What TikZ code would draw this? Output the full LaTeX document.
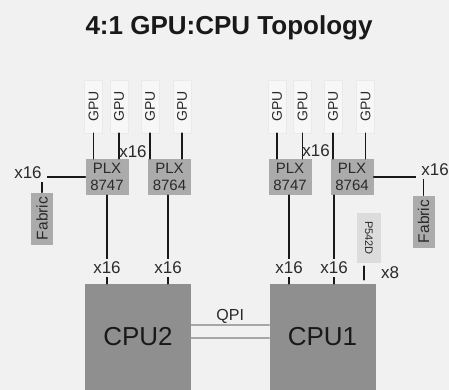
\documentclass[tikz,border=0pt]{standalone}
\usepackage{fontspec}
\setmainfont{Liberation Sans}
\usepackage{color}

\definecolor{bgc}{HTML}{F1F1F1}
\definecolor{gpuc}{HTML}{F7F7F7}
\definecolor{gpubd}{HTML}{EAEAEA}
\definecolor{plxc}{HTML}{ABABAB}
\definecolor{cpuc}{HTML}{8F8F8F}
\definecolor{cardc}{HTML}{DCDCDC}
\definecolor{qpic}{HTML}{A6A6A6}
\definecolor{txtc}{HTML}{2A2A2A}

\begin{document}
\begin{tikzpicture}[line cap=round,line join=round,x=1pt,y=-1pt,
  link/.style={line width=1.6pt,black!90},
  qpi/.style={line width=1.5pt,qpic},
  title/.style={font=\fontsize{26}{30}\bfseries\selectfont,text=black!90},
  gpu/.style={draw=gpubd,fill=gpuc,minimum width=18,minimum height=53,inner sep=0pt,
    font=\fontsize{14}{16}\selectfont,text=txtc},
  plx/.style={fill=plxc,minimum width=43,minimum height=36,inner sep=0pt,align=center,
    font=\fontsize{15}{16.5}\selectfont,text=txtc},
  fabric/.style={fill=plxc,minimum width=22,minimum height=52,inner sep=0pt,
    font=\fontsize{15.5}{17}\selectfont,text=txtc},
  card/.style={fill=cardc,minimum width=24,minimum height=50,inner sep=0pt,
    font=\fontsize{11}{13}\selectfont,text=txtc},
  cpu/.style={fill=cpuc,minimum width=106,minimum height=106,inner sep=0pt,
    font=\fontsize{26}{30}\selectfont,text=black!90},
  lbl/.style={fill=bgc,inner ysep=3pt,inner xsep=5pt,font=\fontsize{17}{19}\selectfont,text=txtc},
  tag/.style={inner sep=1pt,font=\fontsize{17}{19}\selectfont,text=txtc}]
\useasboundingbox (0,0) rectangle (449,390);
\fill [bgc] (0,0) rectangle (449,390);

\node [title] (ttl) at (229,28) {4:1 GPU:CPU Topology};

% switches
\node [plx] (plxA1) at (107,177) {PLX\\8747};
\node [plx] (plxA2) at (169.5,177) {PLX\\8764};
\node [plx] (plxB1) at (290,177) {PLX\\8747};
\node [plx] (plxB2) at (352,177) {PLX\\8764};

% gpus
\foreach \n/\x/\p in {A1/93.5/plxA1, A2/119/plxA1, A3/150/plxA2, A4/182/plxA2,
                      B1/277/plxB1, B2/302.5/plxB1, B3/333/plxB2, B4/365.5/plxB2}{
  \node [gpu] (gpu\n) at (\x,106.5) {\rotatebox{90}{GPU}};
  \draw [link] (gpu\n.south) -- (gpu\n.south |- \p.north);
}
\node [tag] (xA) at (133,152) {x16};
\node [tag] (xB) at (316,151) {x16};

% cpus
\node [cpu] (cpu2) at (138,337) {CPU2};
\node [cpu] (cpu1) at (322.5,337) {CPU1};
\draw [qpi] ([yshift=12pt]cpu2.east) -- node [above,tag,font=\fontsize{16}{18}\selectfont] (qpiL) {QPI} ([yshift=12pt]cpu1.west);
\draw [qpi] ([yshift=-1pt]cpu2.east) -- ([yshift=-1pt]cpu1.west);

\draw [link] (plxA1.south) -- node [pos=.82,lbl] (lA1) {x16} (plxA1.south |- cpu2.north);
\draw [link] ([xshift=-1.5pt]plxA2.south) -- node [pos=.82,lbl] (lA2) {x16} ([xshift=-1.5pt]plxA2.south |- cpu2.north);
\draw [link] ([xshift=-1pt]plxB1.south) -- node [pos=.82,lbl] (lB1) {x16} ([xshift=-1pt]plxB1.south |- cpu1.north);
\draw [link] ([xshift=-18pt]plxB2.south) -- node [pos=.82,lbl] (lB2) {x16} ([xshift=-18pt]plxB2.south |- cpu1.north);

% fabric
\node [fabric] (fabA) at (42,218.5) {\rotatebox{90}{Fabric}};
\node [fabric] (fabB) at (423.5,221.5) {\rotatebox{90}{Fabric}};
\draw [link] (plxA1.west) -- (plxA1.west -| fabA.north) -- (fabA.north);
\draw [link] (plxB2.east) -- (plxB2.east -| fabB.north) -- (fabB.north);
\node [lbl] (xfA) at (28,173) {x16};
\node [lbl] (xfB) at (435,170) {x16};

% card on cpu1
\node [card] (p542) at (369,238) {\rotatebox{-90}{P542D}};
\draw [link,shorten <=3pt,shorten >=4pt] ([xshift=-5pt]p542.south) -- ([xshift=-5pt]p542.south |- cpu1.north);
\node [tag] (x8) at (390,273) {x8};
\end{tikzpicture}
\end{document}
